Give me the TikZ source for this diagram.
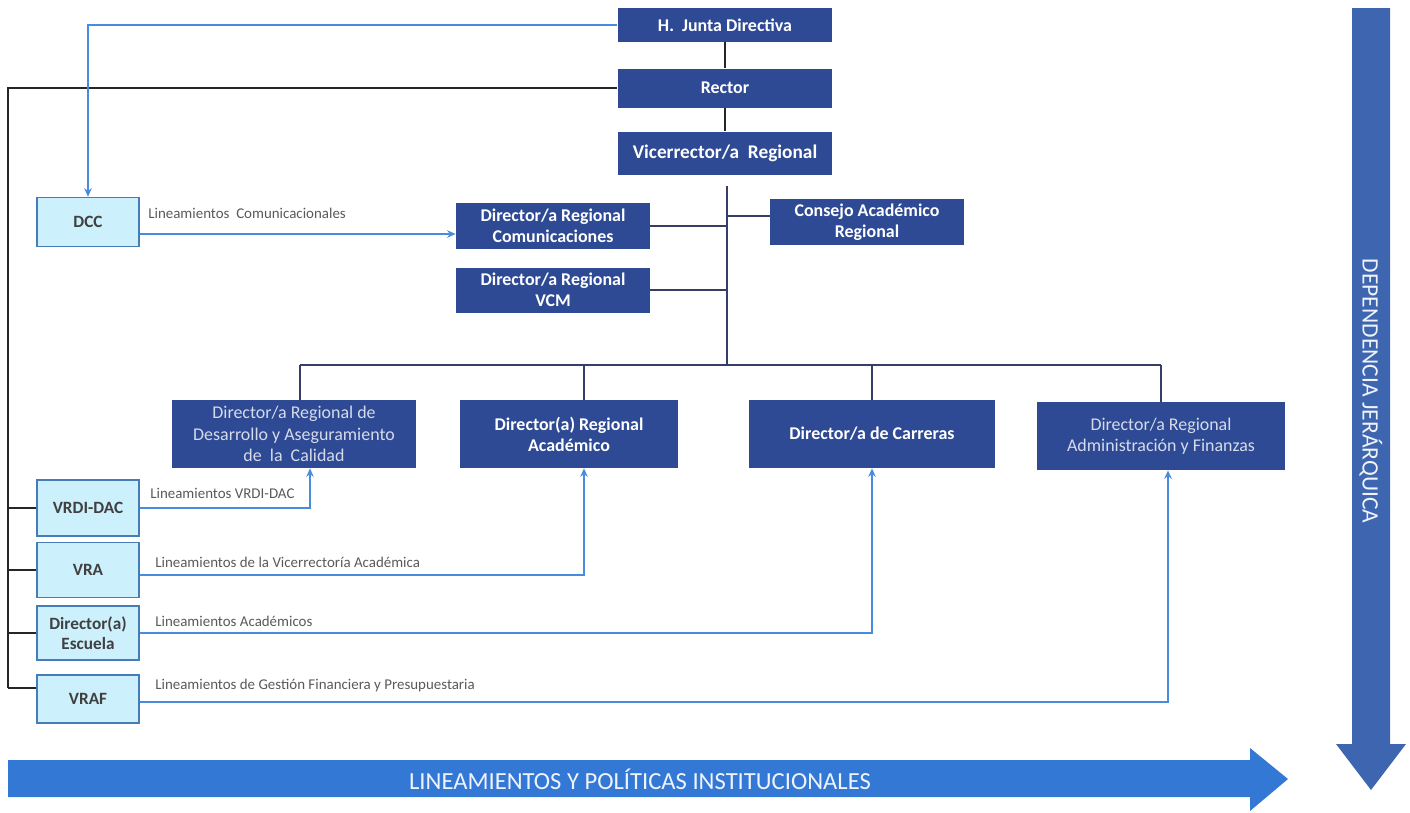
\documentclass[tikz,border=0pt]{standalone}
\usepackage{fontspec}
\setmainfont{Carlito}
\usetikzlibrary{arrows.meta}

\definecolor{navy}{RGB}{46,74,148}
\definecolor{palecyan}{RGB}{204,240,252}
\definecolor{paleedge}{RGB}{70,125,185}
\definecolor{linkblue}{RGB}{72,140,222}
\definecolor{treeline}{RGB}{52,62,104}
\definecolor{flowblue}{RGB}{52,120,214}
\definecolor{rankblue}{RGB}{62,102,176}

\begin{document}
\begin{tikzpicture}[x=0.02cm,y=-0.02cm,
	unit/.style={fill=navy,text=white,inner sep=0pt,align=center,
		font=\bfseries\fontsize{10.2}{12}\selectfont},
	softunit/.style={unit,text=white!80!navy,font=\fontsize{10.2}{12.2}\selectfont},
	ext/.style={fill=palecyan,draw=paleedge,line width=0.9pt,inner sep=0pt,align=center,
		minimum width=2.04cm,text=black!75,font=\bfseries\fontsize{9.8}{11}\selectfont},
	tag/.style={anchor=west,inner sep=0pt,text=black!65,font=\fontsize{8.5}{10}\selectfont},
	link/.style={draw=linkblue,line width=0.9pt,-{Stealth[length=1.7mm,width=1.5mm]}},
	tree/.style={draw=treeline,line width=0.9pt},
	spine/.style={draw=black!85,line width=1pt}]

	\useasboundingbox (0,0) rectangle (1410,812);

	% top of the hierarchy
	\node[unit,minimum width=4.3cm,minimum height=0.68cm] (junta) at (725,25) {H.~ Junta Directiva};
	\node[unit,minimum width=4.3cm,minimum height=0.78cm] (rector) at (725,88) {Rector};
	\node[unit,minimum width=4.3cm,minimum height=0.86cm,font=\bfseries\fontsize{11}{13}\selectfont] (vice) at (725,153) {Vicerrector/a~ Regional};

	% regional level
	\node[unit,minimum width=3.88cm,minimum height=0.92cm] (dcom) at (553,226) {Director/a Regional\\Comunicaciones};
	\node[unit,minimum width=3.88cm,minimum height=0.92cm] (consejo) at (867,222) {Consejo Académico\\Regional};
	\node[unit,minimum width=3.88cm,minimum height=0.9cm] (dvcm) at (553,290) {Director/a Regional\\VCM};

	% directors
	\node[softunit,minimum width=4.9cm,minimum height=1.36cm] (ddes) at (294,434) {Director/a Regional de\\Desarrollo y Aseguramiento\\de~ la~ Calidad};
	\node[unit,minimum width=4.38cm,minimum height=1.36cm] (dacad) at (569,434) {Director(a) Regional\\Académico};
	\node[unit,minimum width=4.94cm,minimum height=1.36cm] (dcar) at (872,434) {Director/a de Carreras};
	\node[softunit,minimum width=4.98cm,minimum height=1.36cm] (dadm) at (1161,436) {Director/a Regional\\Administración y Finanzas};

	% central units
	\node[ext,minimum height=0.98cm] (dcc) at (88,222) {DCC};
	\node[ext,minimum height=1.12cm] (vrdi) at (88,508) {VRDI-DAC};
	\node[ext,minimum height=1.1cm] (vra) at (88,570) {VRA};
	\node[ext,minimum height=1.08cm] (escuela) at (88,633) {Director(a)\\Escuela};
	\node[ext,minimum height=0.96cm] (vraf) at (88,699) {VRAF};

	% labels
	\node[tag] (tcom) at (148,213) {Lineamientos~ Comunicacionales};
	\node[tag] (tvrdi) at (150,493) {Lineamientos VRDI-DAC};
	\node[tag] (tvra) at (155,562) {Lineamientos de la Vicerrectoría Académica};
	\node[tag] (tesc) at (155,621) {Lineamientos Académicos};
	\node[tag] (tvraf) at (155,686) {Lineamientos de Gestión Financiera y Presupuestaria};

	% hierarchy lines
	\coordinate (vdrop) at (727,186);
	\coordinate (hub) at (727,365);
	\draw[spine] (junta.south) -- (rector.north);
	\draw[spine] (rector.south) -- (vice.north);
	\draw[tree] (vdrop) -- (hub);
	\draw[tree] (dcom.east) -- (dcom.east -| hub);
	\draw[tree] ([yshift=0.12cm]consejo.west) -- ([yshift=0.12cm]consejo.west -| hub);
	\draw[tree] (dvcm.east) -- (dvcm.east -| hub);
	\draw[tree] ([xshift=0.12cm]ddes.north |- hub) -- (dadm.north |- hub);
	\draw[tree] ([xshift=0.12cm]ddes.north) -- ([xshift=0.12cm]ddes.north |- hub);
	\draw[tree] ([xshift=0.3cm]dacad.north) -- ([xshift=0.3cm]dacad.north |- hub);
	\draw[tree] (dcar.north) -- (dcar.north |- hub);
	\draw[tree] (dadm.north) -- (dadm.north |- hub);

	% rector to central units
	\coordinate (base) at (8,688);
	\draw[spine] (rector.west) -| (base);
	\draw[spine] (vrdi.west -| base) -- (vrdi.west);
	\draw[spine] (vra.west -| base) -- (vra.west);
	\draw[spine] (escuela.west -| base) -- (escuela.west);
	\draw[spine] (base) -- (base -| vraf.west);

	% guidelines
	\draw[link] (junta.west) -| (dcc.north);
	\draw[link] ([yshift=-0.24cm]dcc.east) -- ([yshift=-0.24cm]dcc.east -| dcom.west);
	\draw[link] (vrdi.east) -| ([xshift=0.32cm]ddes.south);
	\draw[link] ([yshift=-0.1cm]vra.east) -| ([xshift=0.3cm]dacad.south);
	\draw[link] (escuela.east) -| (dcar.south);
	\draw[link] ([yshift=-0.06cm]vraf.east) -| ([xshift=0.14cm]dadm.south);

	% big arrows
	\fill[flowblue] (8,760) -- (1250,760) -- (1250,748) -- (1288,779) -- (1250,811) -- (1250,797) -- (8,797) -- cycle;
	\node[text=white!92!flowblue,font=\fontsize{14}{16}\selectfont] (flow) at (640,779) {LINEAMIENTOS Y POLÍTICAS INSTITUCIONALES};
	\fill[rankblue] (1352,8) -- (1390,8) -- (1390,744) -- (1406,744) -- (1371,790) -- (1336,744) -- (1352,744) -- cycle;
	\node[rotate=-90,text=white!92!rankblue,font=\fontsize{13.4}{15}\selectfont] (rank) at (1371,391) {DEPENDENCIA JERÁRQUICA};

\end{tikzpicture}
\end{document}
